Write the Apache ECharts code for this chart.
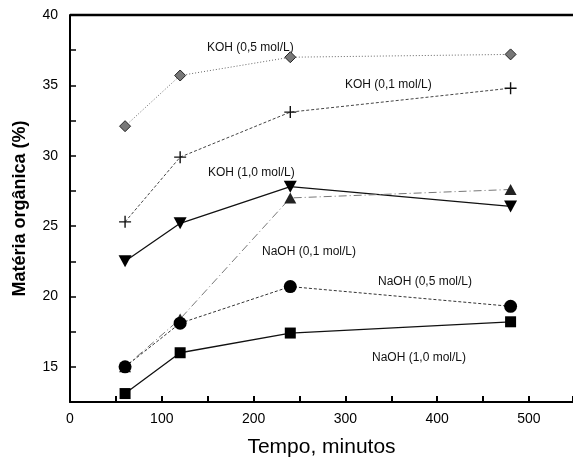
<!DOCTYPE html>
<html>
<head>
<meta charset="utf-8">
<script src="https://cdn.jsdelivr.net/npm/echarts@6/dist/echarts.min.js"></script>
<style>
  html, body { margin: 0; padding: 0; background: #fff; }
  #chart { width: 573px; height: 458px; }
</style>
</head>
<body>
<div id="chart"></div>
<script>
// tempo (minutos)
const tempo = [60, 120, 240, 480];

// matéria orgânica (%)
const koh05 = [32.1, 35.7, 37.0, 37.2];
const koh01 = [25.3, 29.9, 33.1, 34.8];
const koh10 = [22.5, 25.2, 27.8, 26.4];
const naoh01 = [15.0, 18.4, 27.0, 27.6];
const naoh05 = [15.0, 18.1, 20.7, 19.3];
const naoh10 = [13.1, 16.0, 17.4, 18.2];

const plusPath = "path://M5.3,0 L6.7,0 L6.7,5.3 L12,5.3 L12,6.7 L6.7,6.7 L6.7,12 L5.3,12 L5.3,6.7 L0,6.7 L0,5.3 L5.3,5.3 Z";
const downTri = "path://M0,0 L10,0 L5,9 Z";

const chart = echarts.init(document.getElementById("chart"));

function pts(ys) {
  return tempo.map((t, i) => [t, ys[i]]);
}

function serie(name, ys, opt) {
  return Object.assign({
    name: name,
    type: "line",
    data: pts(ys),
    symbolSize: 11,
    z: 3,
    animation: false
  }, opt);
}

const labelFont = 'Liberation Sans, Arial, sans-serif';
function txt(x, y, s) {
  return {
    type: "text", left: x, top: y,
    style: { text: s, font: "12px " + labelFont, fill: "#111" }
  };
}

chart.setOption({
  animation: false,
  grid: { left: 70, right: 0, top: 15, bottom: 56, outerBoundsMode: "none", containLabel: false },
  xAxis: {
    type: "value", min: 0, max: 548, interval: 50,
    name: "Tempo, minutos", nameLocation: "middle", nameGap: 35,
    nameTextStyle: { fontSize: 21, color: "#000", fontFamily: labelFont },
    axisLine: { lineStyle: { color: "#000", width: 2 } },
    axisTick: { inside: true, length: 6, lineStyle: { color: "#000", width: 2 } },
    axisLabel: {
      color: "#000", fontSize: 14, fontFamily: labelFont, margin: 10,
      formatter: v => (v % 100 === 0 ? String(v) : "")
    },
    splitLine: { show: false }
  },
  yAxis: {
    type: "value", min: 12.5, max: 40, interval: 2.5,
    name: "Matéria orgânica (%)", nameLocation: "middle", nameGap: 41, nameRotate: 90,
    nameTextStyle: { fontSize: 18, fontWeight: "bold", color: "#000", fontFamily: labelFont },
    axisLine: { lineStyle: { color: "#000", width: 2 } },
    axisTick: { inside: true, length: 6, lineStyle: { color: "#000", width: 1.5 } },
    axisLabel: {
      color: "#000", fontSize: 14, fontFamily: labelFont, margin: 12,
      formatter: v => (v % 5 === 0 ? String(v) : "")
    },
    splitLine: { show: false }
  },
  graphic: [
    { type: "line", shape: { x1: 70, y1: 15, x2: 573, y2: 15 }, style: { stroke: "#000", lineWidth: 2.5 } },
    txt(207, 42, "KOH (0,5 mol/L)"),
    txt(345, 79, "KOH (0,1 mol/L)"),
    txt(208, 167, "KOH (1,0 mol/L)"),
    txt(262, 246, "NaOH (0,1 mol/L)"),
    txt(378, 276, "NaOH (0,5 mol/L)"),
    txt(372, 352, "NaOH (1,0 mol/L)")
  ],
  series: [
    serie("KOH 0,5", koh05, {
      symbol: "diamond", symbolSize: 11,
      itemStyle: { color: "#777", borderColor: "#222", borderWidth: 1 },
      lineStyle: { color: "#666", width: 1, type: [1, 2] }
    }),
    serie("KOH 0,1", koh01, {
      symbol: plusPath, symbolSize: 12,
      itemStyle: { color: "#111" },
      lineStyle: { color: "#444", width: 1, type: [3, 2] }
    }),
    serie("KOH 1,0", koh10, {
      symbol: downTri, symbolSize: [13, 12],
      itemStyle: { color: "#000" },
      lineStyle: { color: "#111", width: 1.3, type: "solid" }
    }),
    serie("NaOH 0,1", naoh01, {
      symbol: "triangle", symbolSize: [12, 11],
      itemStyle: { color: "#222" },
      lineStyle: { color: "#777", width: 1, type: [8, 3, 1, 3] }
    }),
    serie("NaOH 0,5", naoh05, {
      symbol: "circle", symbolSize: 13,
      itemStyle: { color: "#000" },
      lineStyle: { color: "#333", width: 1, type: [3, 2] }
    }),
    serie("NaOH 1,0", naoh10, {
      symbol: "rect", symbolSize: 11,
      itemStyle: { color: "#000" },
      lineStyle: { color: "#111", width: 1.3, type: "solid" }
    })
  ]
});
</script>
</body>
</html>
